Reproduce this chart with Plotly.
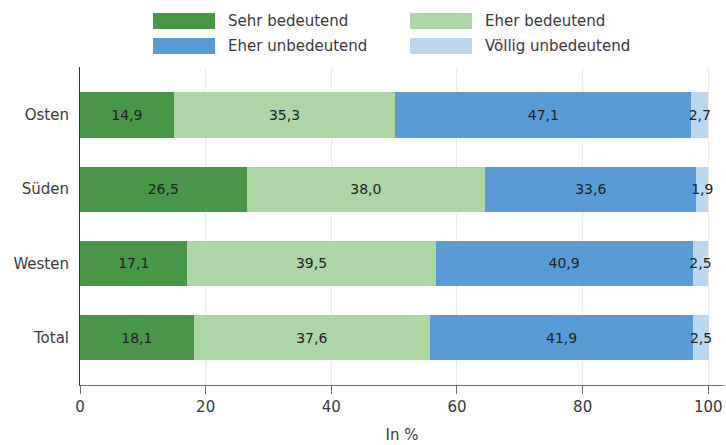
import plotly.graph_objects as go

regions = ["Osten", "Süden", "Westen", "Total"]
series_names = ["Sehr bedeutend", "Eher bedeutend", "Eher unbedeutend", "Völlig unbedeutend"]
sehr_bedeutend = [14.9, 26.5, 17.1, 18.1]
eher_bedeutend = [35.3, 38.0, 39.5, 37.6]
eher_unbedeutend = [47.1, 33.6, 40.9, 41.9]
voellig_unbedeutend = [2.7, 1.9, 2.5, 2.5]
x_ticks = [0, 20, 40, 60, 80, 100]

values = [sehr_bedeutend, eher_bedeutend, eher_unbedeutend, voellig_unbedeutend]
colors = ["#4a9649", "#acd6a6", "#5a9bd6", "#bcd6ee"]

FONT = "DejaVu Sans"
TXT = "#3a3a3a"

fig = go.Figure()
for name, vals, col in zip(series_names, values, colors):
    fig.add_trace(go.Bar(
        y=list(range(len(regions))), x=vals, name=name, orientation="h",
        marker=dict(color=col, line=dict(width=0)),
        width=0.607,
        texttemplate="%{x:.1f}", textposition="inside", insidetextanchor="middle",
        constraintext="none", textangle=0,
        textfont=dict(family=FONT, size=14, color="#222222"),
        showlegend=False,
    ))

# custom legend (wide swatches)
leg_pos = [(153, 21), (410, 21), (153, 46), (410, 46)]
W, H = 726, 445
for (px, py), name, col in zip(leg_pos, series_names, colors):
    fig.add_shape(type="rect", xref="paper", yref="paper",
                  x0=(px - 80) / 644, x1=(px + 62 - 80) / 644,
                  y0=(385 - (py + 8)) / 318, y1=(385 - (py - 8)) / 318,
                  fillcolor=col, line=dict(width=0))
    fig.add_annotation(xref="paper", yref="paper",
                       x=(px + 73 - 80) / 644, y=(385 - py) / 318,
                       text=name, showarrow=False, xanchor="left", yanchor="middle",
                       font=dict(family=FONT, size=15, color=TXT))

fig.update_layout(
    width=W, height=H,
    margin=dict(l=80, r=2, t=67, b=60),
    plot_bgcolor="white", paper_bgcolor="white",
    barmode="stack", separators=",.",
    font=dict(family=FONT, size=15, color=TXT),
    showlegend=False,
    xaxis=dict(range=[0, 102.5], tickvals=x_ticks, ticktext=[str(t) for t in x_ticks],
               showgrid=True, gridcolor="#e9e9e9", gridwidth=1,
               showline=True, linecolor="#6e6e6e", linewidth=1,
               ticks="outside", ticklen=8, tickcolor="#6e6e6e",
               zeroline=False,
               tickfont=dict(family=FONT, size=15, color=TXT),
               title=dict(text="In %", font=dict(family=FONT, size=15, color=TXT), standoff=14)),
    yaxis=dict(range=[3.64, -0.647], tickvals=list(range(len(regions))), ticktext=regions,
               showgrid=False, showline=True, linecolor="#333333", linewidth=1,
               zeroline=False, ticks="", ticklabelstandoff=7,
               tickfont=dict(family=FONT, size=15, color=TXT)),
)

fig.write_html("out.html", config={"displayModeBar": False},
               post_script="document.body.style.margin='0';document.body.style.padding='0';document.body.style.overflow='hidden';")
